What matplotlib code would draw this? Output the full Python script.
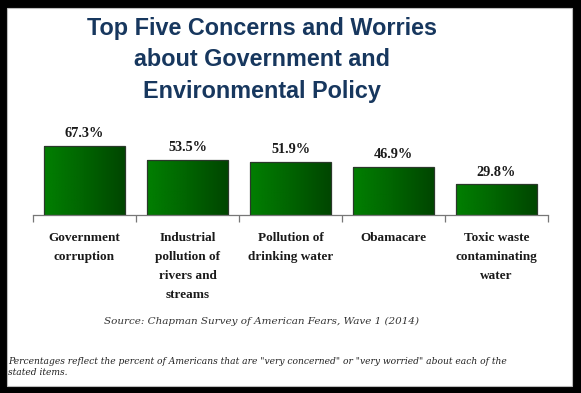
import matplotlib
matplotlib.use('Agg')
import matplotlib.pyplot as plt
import numpy as np
from matplotlib.colors import LinearSegmentedColormap
from matplotlib.patches import Rectangle

categories = ['Government\ncorruption', 'Industrial\npollution of\nrivers and\nstreams',
              'Pollution of\ndrinking water', 'Obamacare', 'Toxic waste\ncontaminating\nwater']
values = [67.3, 53.5, 51.9, 46.9, 29.8]
title = 'Top Five Concerns and Worries\nabout Government and\nEnvironmental Policy'
source = 'Source: Chapman Survey of American Fears, Wave 1 (2014)'
note = ('Percentages reflect the percent of Americans that are "very concerned" or "very worried" '
        'about each of the\nstated items.')

W, H = 581, 393


def fx(px):
    return px / W


def fy(py):
    return 1 - py / H


def main():
    fig = plt.figure(figsize=(W / 100, H / 100), dpi=100, facecolor='black')
    # white panel
    fig.patches.append(Rectangle((fx(7), fy(386)), fx(572) - fx(7), fy(8) - fy(386),
                                 transform=fig.transFigure, facecolor='white',
                                 edgecolor='#bbbbbb', linewidth=0.8, zorder=-1))

    ax = fig.add_axes([fx(33), fy(215), fx(548) - fx(33), fy(130) - fy(215)])
    ax.set_facecolor('none')
    ax.set_zorder(2)

    cmap = LinearSegmentedColormap.from_list('g', ['#017f01', '#016401', '#004600'])
    grad = np.linspace(0, 1, 256).reshape(1, -1)
    width = 0.78
    for i, v in enumerate(values):
        x0 = i - width / 2
        rect = Rectangle((x0, 0), width, v, facecolor='none', edgecolor='#2a382a',
                         linewidth=0.9, zorder=3)
        ax.add_patch(rect)
        im = ax.imshow(grad, cmap=cmap, aspect='auto', extent=(x0, x0 + width, 0, v),
                       zorder=2, interpolation='bilinear')
        im.set_clip_path(rect)
        ax.annotate(f'{v:.1f}%', (i, v), xytext=(0, 4), textcoords='offset points',
                    ha='center', va='bottom', fontsize=10.3, fontweight='bold',
                    family='Liberation Serif', color='#1a1a1a')

    ax.set_xlim(-0.5, len(values) - 0.5)
    ax.set_ylim(0, 85 / 1.03)
    for s in ['left', 'right', 'top']:
        ax.spines[s].set_visible(False)
    ax.spines['bottom'].set_color('#777777')
    ax.spines['bottom'].set_linewidth(0.9)
    ax.set_yticks([])
    ax.set_xticks(np.arange(-0.5, len(values), 1))
    ax.set_xticklabels([])
    ax.tick_params(axis='x', which='major', direction='out', length=5, color='#777777', width=0.9)
    ax.set_xticks(range(len(values)), categories, minor=True)
    ax.tick_params(axis='x', which='minor', length=0, pad=12.5)
    for lab in ax.get_xticklabels(minor=True):
        lab.set_fontfamily('Liberation Serif')
        lab.set_fontweight('bold')
        lab.set_fontsize(9.5)
        lab.set_linespacing(1.75)
        lab.set_verticalalignment('top')
        lab.set_color('#1a1a1a')

    fig.text(fx(262), fy(60), title, ha='center', va='center', fontsize=16.8,
             fontweight='bold', family='Liberation Sans', color='#17375e', linespacing=1.45)
    fig.text(fx(261), fy(321), source, ha='center', va='center', fontsize=7.5,
             style='italic', family='DejaVu Serif', color='#333333')
    fig.text(fx(8), fy(367), note, ha='left', va='center', fontsize=6.6,
             style='italic', family='DejaVu Serif', color='#222222', linespacing=1.15)

    fig.savefig('out.png', dpi=100, facecolor='black')


if __name__ == '__main__':
    main()
